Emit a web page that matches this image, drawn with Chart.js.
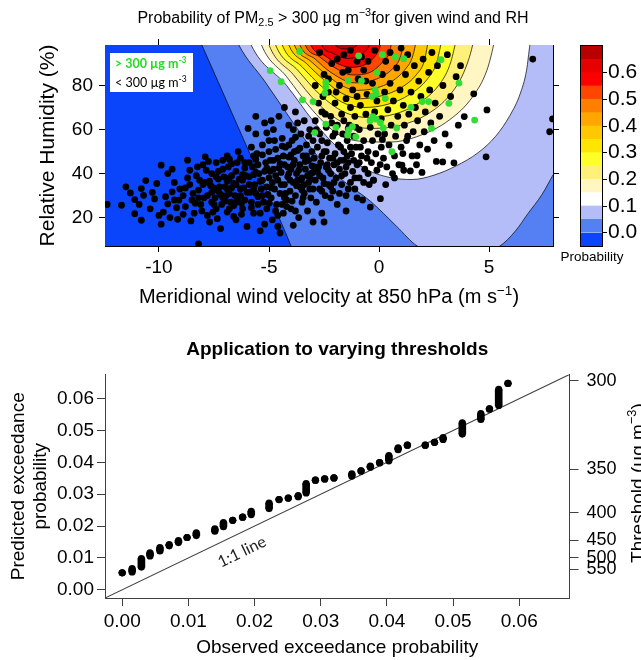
<!DOCTYPE html>
<html>
<head>
<meta charset="utf-8">
<title>PM2.5 exceedance probability</title>
<script src="https://cdn.jsdelivr.net/npm/chart.js@4.4.0/dist/chart.umd.min.js"></script>
<style>
    html, body { margin: 0; padding: 0; background: #fff; }
    #wrap { position: relative; width: 641px; height: 660px; overflow: hidden; }
    canvas { position: absolute; }
    #topChart { left: 0; top: 0; }
    #barChart { left: 540px; top: 0; }
    #bottomChart { left: 0; top: 320px; }
</style>
</head>
<body>
<div id="wrap">
    <canvas id="topChart" width="641" height="320"></canvas>
    <canvas id="barChart" width="101" height="320"></canvas>
    <canvas id="bottomChart" width="641" height="340"></canvas>
</div>
<script>
// ============================================
// Data - top panel (wind vs RH)
// ============================================

const windRange = [-12.45, 7.9];
const rhRange = [7.1, 98.4];
const windTicks = [-10, -5, 0, 5];
const rhTicks = [20, 40, 60, 80];

// probability bands of the colour key
const probEdges = [-0.05, 0.00, 0.05, 0.10, 0.15, 0.20, 0.25, 0.30, 0.35, 0.40, 0.45, 0.50, 0.55, 0.60, 0.65, 0.70];
const probColors = ['#0b45fb', '#5580f3', '#b4bdf8', '#ffffff', '#fff6c4', '#fff07a', '#ffff2a', '#ffe500',
                    '#ffc800', '#ffa600', '#ff7f00', '#ff4600', '#ff0000', '#e60000', '#b80000'];
const probTicks = [0, 0.1, 0.2, 0.3, 0.4, 0.5, 0.6];

// contour lines [wind, RH], levels 0.00 .. 0.65
const contour00 = [[-8.3, 104], [-8.05, 98.4], [-6.0, 52], [-4.0, 7.1], [-3.85, 3], [-3.5, 0], [12, 0]];
const contour05 = [[-6.6, 104], [-6.37, 98.4], [-5.2, 82], [-4.0, 64.5], [-2.8, 48], [-1.6, 36.5], [-0.4, 27.5],
                   [0.8, 16], [1.73, 7.1], [3.6, 1], [5.49, 7.1], [6.2, 14], [6.76, 21.8], [7.4, 30.5], [7.9, 39.4], [8.6, 52]];
const contour10 = [[-6.0, 104], [-5.81, 98.4], [-4.2, 80], [-3.0, 64], [-1.8, 51], [-0.6, 42], [0.5, 38.2], [1.5, 37.3],
                   [2.5, 39.3], [3.5, 43.5], [4.5, 49.5], [5.3, 57], [5.95, 66.5], [6.4, 76], [6.7, 87], [6.85, 98.4], [6.95, 104]];
const contour15 = [[-5.5, 104], [-5.34, 98.4], [-4.2, 84], [-3.0, 68.5], [-1.8, 57.5], [-0.6, 54.5], [0.5, 54.3],
                   [1.7, 56.7], [3.2, 64.4], [4.25, 74.9], [4.9, 87], [5.2, 98.4], [5.3, 104]];
const contour20 = [[-5.15, 104], [-5.0, 98.4], [-3.9, 85], [-2.8, 72], [-1.6, 63], [-0.3, 60.5], [1.0, 62], [2.2, 67],
                   [3.2, 75.5], [3.85, 86], [4.25, 98.4], [4.35, 104]];
const contour25 = [[-4.85, 104], [-4.7, 98.4], [-3.7, 87], [-2.7, 76], [-1.6, 68], [-0.5, 65.5], [0.7, 67], [1.8, 72],
                   [2.7, 80], [3.2, 89], [3.45, 98.4], [3.55, 104]];
const contour30 = [[-4.55, 104], [-4.4, 98.4], [-3.5, 88.5], [-2.6, 79.5], [-1.7, 72.5], [-0.7, 70], [0.4, 71.5],
                   [1.4, 76], [2.2, 83], [2.6, 90], [2.8, 98.4], [2.9, 104]];
const contour35 = [[-4.25, 104], [-4.1, 98.4], [-3.3, 90], [-2.5, 82.5], [-1.7, 76.5], [-0.85, 74], [0.1, 75.3],
                   [1.0, 79], [1.7, 85], [2.05, 91], [2.2, 98.4], [2.3, 104]];
const contour40 = [[-4.0, 104], [-3.85, 98.4], [-3.1, 91], [-2.4, 85], [-1.7, 80], [-1.0, 77.8], [-0.2, 78.7],
                   [0.6, 82], [1.2, 87.5], [1.5, 92.5], [1.65, 98.4], [1.75, 104]];
const contour45 = [[-3.75, 104], [-3.6, 98.4], [-2.9, 92], [-2.2, 86], [-1.1, 81.2], [-0.1, 83], [0.6, 87.5],
                   [0.95, 92.5], [1.1, 98.4], [1.2, 104]];
const contour50 = [[-3.5, 104], [-3.35, 98.4], [-2.7, 93], [-2.0, 88], [-1.2, 84.8], [-0.4, 86], [0.15, 90.5],
                   [0.45, 94.5], [0.55, 98.4], [0.65, 104]];
const contour55 = [[-3.25, 104], [-3.1, 98.4], [-2.5, 93.8], [-1.9, 90], [-1.3, 88.3], [-0.7, 89.2], [-0.25, 92.5],
                   [-0.02, 96], [0.06, 98.4], [0.15, 104]];
const contour60 = [[-2.75, 104], [-2.6, 98.4], [-2.1, 94.7], [-1.45, 92.3], [-0.9, 93.5], [-0.55, 96.5], [-0.45, 98.4], [-0.35, 104]];
const contour65 = [[-2.1, 104], [-2.0, 98.4], [-1.5, 96.6], [-1.0, 98.4], [-0.9, 104]];

const contourLines = [contour00, contour05, contour10, contour15, contour20, contour25, contour30,
                      contour35, contour40, contour45, contour50, contour55, contour60, contour65];

// days with PM2.5 > 300 ug m-3 (green)
const exceedPoints = [
    [-3.61, 95.5], [-4.95, 86.8], [-4.45, 81.7], [-3.48, 73.5], [-3.0, 72.7], [-2.42, 81.4], [-2.42, 79.2],
    [-2.46, 76.5], [-0.93, 93.5], [0.15, 94.0], [0.74, 92.9], [1.12, 92.2], [2.81, 91.7], [-1.4, 82.1],
    [-0.8, 82.1], [-0.09, 85.9], [-0.32, 75], [-0.13, 76.2], [0.28, 74.1], [3.63, 81.1], [1.45, 70.1],
    [1.96, 72.7], [2.25, 72.7], [3.17, 71.9], [-0.28, 65.9], [-0.13, 64.7], [-0.41, 64.0], [0.06, 63.1],
    [0.19, 60.7], [0.8, 60.7], [4.34, 64.3], [2.38, 60.5], [-2.42, 62.5], [-1.96, 61.0], [-1.38, 59.8],
    [-1.21, 61.3], [-1.43, 57.5], [-1.06, 56.7], [-2.92, 58.6], [0.58, 49.9], [-0.17, 78]
];

// days below 300 ug m-3 (black)
const belowPoints = [
    [-12.35, 26], [-11.7, 25.6], [-11.3, 31.2], [-11.1, 28.2], [-10.8, 33.2], [-10.7, 30.1], [-11.1, 21.8],
    [-10.8, 18.8], [-9.9, 43.8], [-9.9, 17], [-10.1, 35.5], [-9.6, 40], [-9.4, 31.7], [-9.1, 27.9], [-10.4, 24],
    [-10.2, 28.5], [-9.8, 22.5], [-9.5, 20], [-9.3, 36], [-9.2, 24.5], [-10.6, 36.8], [-11.5, 34], [-10.9, 26],
    [-9.7, 29.5], [-9.4, 42], [-9.05, 33], [-10.3, 31.5], [-9.6, 26.2], [-9.15, 19.2], [-10.0, 21],
    [-8.9, 30], [-8.8, 25], [-8.7, 46.1], [-8.6, 35], [-8.5, 28], [-8.4, 22], [-8.3, 39], [-8.2, 8.1],
    [-8.2, 32.5], [-8.1, 26], [-8.0, 44], [-7.9, 47.6], [-7.9, 36], [-7.8, 30], [-7.8, 21], [-7.7, 18],
    [-7.6, 40], [-7.6, 27], [-7.5, 33.5], [-7.4, 45], [-7.4, 24], [-7.3, 37.5], [-7.2, 30.5], [-7.2, 15],
    [-7.1, 42], [-7.0, 27.5], [-7.0, 34], [-6.9, 48], [-6.9, 22.5], [-6.8, 38], [-6.8, 31], [-6.7, 44.5],
    [-6.6, 25.5], [-6.6, 35.5], [-6.5, 41], [-6.5, 19], [-6.4, 29], [-6.3, 47], [-6.3, 33], [-6.2, 37],
    [-6.2, 24], [-6.1, 42.5], [-6.1, 28], [-6.0, 31.5], [-6.0, 16], [-8.6, 41.5], [-8.45, 31], [-8.35, 26.5],
    [-8.15, 37], [-8.05, 23], [-7.95, 29], [-7.85, 41.5], [-7.65, 34.5], [-7.55, 22.5], [-7.45, 29],
    [-7.35, 19.5], [-7.25, 34], [-7.15, 26], [-7.05, 38.5], [-6.95, 30], [-6.85, 43], [-6.75, 27],
    [-6.7, 33.5], [-6.55, 30], [-6.45, 45], [-6.35, 37.5], [-6.25, 26.5], [-6.15, 33.5], [-6.05, 39],
    [-8.8, 33.5], [-8.9, 21.5], [-8.55, 18.5], [-7.75, 45.5], [-7.1, 46], [-6.6, 20.5], [-6.25, 21.5],
    [-6.4, 50], [-7.6, 31.5], [-8.25, 43], [-8.0, 35], [-7.3, 41], [-6.9, 36.5], [-6.5, 27], [-6.8, 46.5],
    [-5.9, 45], [-5.9, 35], [-5.8, 27], [-5.8, 52], [-5.7, 39.5], [-5.7, 22], [-5.6, 31], [-5.6, 58],
    [-5.5, 44], [-5.5, 26], [-5.4, 36.5], [-5.4, 14], [-5.3, 48.5], [-5.3, 30], [-5.2, 63], [-5.2, 41],
    [-5.1, 24], [-5.1, 34], [-5.0, 55], [-5.0, 38], [-4.95, 46], [-4.9, 29], [-4.85, 19], [-4.8, 42],
    [-4.8, 60], [-4.75, 33], [-4.7, 51], [-4.65, 26], [-4.6, 37], [-4.6, 47], [-4.55, 66], [-4.5, 31],
    [-4.5, 13], [-4.45, 40.5], [-4.4, 56], [-4.35, 22], [-4.3, 35], [-4.3, 44], [-4.25, 52], [-4.2, 28],
    [-4.15, 38.5], [-4.1, 62], [-4.1, 47.5], [-4.05, 32], [-4.0, 42], [-4.0, 24], [-3.95, 55], [-3.9, 36],
    [-3.85, 46], [-3.8, 30], [-3.8, 68], [-3.75, 40], [-3.7, 50.5], [-3.65, 20], [-3.6, 34], [-3.6, 44],
    [-3.55, 58], [-3.5, 27], [-3.5, 38], [-3.45, 48], [-3.4, 64], [-3.4, 31], [-3.35, 42], [-3.3, 53],
    [-3.25, 23], [-3.2, 36], [-3.2, 46], [-3.15, 60], [-3.1, 29], [-3.1, 40], [-3.05, 50], [-3.0, 33],
    [-3.0, 18], [-5.85, 31.5], [-5.75, 43], [-5.65, 35], [-5.55, 49], [-5.45, 40], [-5.35, 33], [-5.25, 27],
    [-5.15, 45], [-5.05, 30.5], [-4.95, 41], [-4.85, 36], [-4.7, 23], [-4.55, 42.5], [-4.45, 35], [-4.35, 48],
    [-4.25, 31], [-4.15, 43], [-4.05, 37], [-3.95, 27.5], [-3.85, 50], [-3.75, 34.5], [-3.65, 41.5],
    [-3.55, 37], [-3.45, 29], [-3.35, 45.5], [-3.25, 39], [-3.15, 33], [-3.05, 43.5], [-5.6, 66], [-5.1, 58.5],
    [-4.9, 64], [-4.3, 70], [-3.9, 60], [-4.75, 55], [-5.95, 60.5], [-5.3, 53], [-4.1, 53], [-3.7, 63],
    [-5.2, 17], [-4.6, 16], [-3.9, 16.5], [-5.7, 48], [-4.4, 26],
    [-2.95, 47], [-2.9, 37], [-2.9, 64], [-2.85, 27], [-2.8, 52], [-2.8, 41], [-2.75, 72], [-2.7, 33],
    [-2.7, 58], [-2.65, 45], [-2.6, 22], [-2.6, 68], [-2.55, 38], [-2.5, 50], [-2.5, 85], [-2.45, 30],
    [-2.4, 43], [-2.4, 61], [-2.35, 54], [-2.3, 35], [-2.3, 77], [-2.25, 47], [-2.2, 40], [-2.2, 66],
    [-2.15, 90], [-2.1, 32], [-2.1, 57], [-2.05, 44], [-2.0, 49], [-2.0, 72], [-1.95, 38], [-1.9, 62],
    [-1.9, 26], [-1.85, 53], [-1.8, 42], [-1.8, 80], [-1.75, 46], [-1.7, 35], [-1.7, 67], [-1.65, 58],
    [-1.6, 94], [-1.6, 50], [-1.55, 40], [-1.5, 74], [-1.5, 30], [-1.45, 55], [-1.4, 45], [-1.4, 87],
    [-1.35, 62], [-1.3, 36], [-1.3, 70], [-1.25, 49], [-1.2, 78], [-1.2, 41], [-1.15, 57], [-1.1, 33],
    [-1.1, 66], [-1.05, 52], [-1.0, 44], [-1.0, 91], [-0.95, 83], [-0.9, 60], [-0.9, 38], [-0.85, 71],
    [-0.8, 48], [-0.75, 28], [-0.7, 55], [-0.7, 87], [-0.65, 42], [-0.6, 67], [-0.55, 76], [-0.5, 91],
    [-0.5, 50], [-0.45, 35], [-0.4, 61], [-0.4, 24.8], [-0.35, 45], [-0.3, 81], [-0.3, 55], [-0.25, 37],
    [-0.2, 68], [-0.2, 96], [-0.15, 49], [-0.1, 73], [-0.1, 41.5], [-0.05, 58], [-2.85, 60], [-2.6, 48],
    [-2.35, 44], [-2.05, 36], [-1.75, 52], [-1.45, 48], [-1.15, 46], [-0.85, 52], [-0.55, 47], [-2.45, 67],
    [-2.15, 63], [-1.6, 64], [-1.05, 61], [-2.7, 95], [-1.9, 92], [-1.3, 96], [-2.3, 83], [-1.65, 86],
    [-0.8, 93], [-2.9, 80], [-2.55, 75], [-1.95, 77], [-1.0, 75], [-0.6, 82], [-2.75, 43], [-2.2, 29],
    [-1.5, 23], [-1.0, 29], [-2.5, 18], [-3.0, 55],
    [0.05, 44.1], [0.1, 52], [0.1, 65], [0.15, 85], [0.2, 47], [0.25, 58], [0.25, 77], [0.3, 91],
    [0.35, 43], [0.4, 69], [0.45, 53], [0.5, 81], [0.55, 62], [0.61, 40], [0.65, 73], [0.7, 48],
    [0.75, 57], [0.8, 88], [0.85, 66], [0.9, 44], [0.95, 78], [1.0, 52], [1.04, 43.8], [1.08, 49.1],
    [1.1, 71], [1.12, 41.5], [1.15, 62], [1.2, 85], [1.25, 55], [1.3, 94], [1.35, 67], [1.42, 41.2],
    [1.45, 77], [1.5, 48], [1.55, 59], [1.6, 89], [1.65, 70], [1.73, 48.1], [1.75, 64], [1.8, 82],
    [1.85, 53], [1.9, 75], [2.0, 92], [2.05, 59], [2.1, 68], [2.2, 51.1], [2.25, 86], [2.3, 78],
    [2.35, 63], [2.5, 55], [2.55, 72], [2.65, 89], [2.75, 66], [2.89, 45.3], [2.9, 80], [3.0, 58],
    [3.1, 94], [3.18, 52.9], [3.25, 75], [3.4, 44.9], [3.5, 84], [3.6, 62], [3.87, 65.9], [4.3, 76.2],
    [4.86, 47.6], [4.9, 68.9], [6.98, 92], [7.88, 64.8], [7.75, 59], [0.3, 35], [0.7, 38], [-0.26, 37],
    [0.06, 28.6], [2.6, 45.5], [1.95, 40.5], [0.5, 95], [1.0, 97], [2.4, 95], [3.7, 89], [0.15, 55.5],
    [1.3, 57], [1.7, 44],
    [-7.7, 36.5], [-7.5, 26], [-7.3, 32], [-7.1, 29], [-6.9, 33], [-6.7, 39], [-6.5, 35], [-6.3, 30],
    [-6.1, 45], [-5.9, 38.5], [-5.7, 33], [-5.5, 29.5], [-5.3, 37], [-5.1, 42.5], [-4.9, 33.5], [-4.7, 39],
    [-4.5, 44.5], [-4.3, 29], [-4.1, 40], [-3.9, 44], [-3.7, 37], [-3.5, 32.5], [-3.3, 48], [-3.1, 37.5],
    [-2.9, 43], [-2.7, 39], [-2.5, 35.5], [-2.3, 41.5], [-2.1, 47], [-1.9, 45], [-1.7, 39], [-1.5, 43],
    [-1.3, 52], [-1.1, 38], [-0.9, 45], [-0.7, 36], [-0.5, 40], [-5.8, 24.5], [-5.4, 22], [-5.0, 26.5],
    [-4.6, 21], [-4.2, 25], [-3.8, 23], [-3.4, 35], [-3.0, 40.5], [-2.6, 32], [-2.2, 34], [-1.8, 31],
    [-1.4, 33], [-6.8, 24], [-7.4, 38.5], [-8.2, 29], [-8.7, 38], [-9.3, 28], [-5.6, 46.5], [-5.0, 50],
    [-4.4, 52.5], [-3.8, 56.5], [-3.2, 57], [-2.6, 55], [-2.0, 58.5], [-1.4, 60.5], [-4.8, 46], [-4.0, 48.5],
    [-3.6, 51.5], [-2.4, 50], [-1.6, 46], [-6.2, 39.5], [-5.6, 40.5]
];

// ============================================
// Data - bottom panel (observed vs predicted)
// ============================================

const obsProb = [0.0000, 0.0015, 0.0029, 0.0042, 0.0057, 0.0071, 0.0085, 0.0098, 0.0112, 0.0140, 0.0153,
                 0.0167, 0.0182, 0.0195, 0.0222, 0.0237, 0.0251, 0.0266, 0.0278, 0.0292, 0.0306, 0.0320,
                 0.0347, 0.0361, 0.0375, 0.0389, 0.0403, 0.0417, 0.0431, 0.0458, 0.0472, 0.0485, 0.0514,
                 0.0542, 0.0555, 0.0569, 0.0583];
const predLow = [0.0053, 0.0056, 0.0071, 0.0106, 0.0122, 0.0138, 0.0148, 0.0164, 0.0170, 0.0184, 0.0198,
                 0.0218, 0.0228, 0.0236, 0.0255, 0.0283, 0.0288, 0.0292, 0.0304, 0.0344, 0.0348, 0.0351,
                 0.0357, 0.0373, 0.0385, 0.0399, 0.0405, 0.0440, 0.0454, 0.0454, 0.0463, 0.0472, 0.0489,
                 0.0535, 0.0568, 0.0579, 0.0648];
const predHigh = [0.0053, 0.0066, 0.0098, 0.0116, 0.0132, 0.0142, 0.0154, 0.0164, 0.0179, 0.0191, 0.0211,
                  0.0218, 0.0228, 0.0246, 0.0272, 0.0283, 0.0288, 0.0296, 0.0333, 0.0344, 0.0348, 0.0351,
                  0.0364, 0.0373, 0.0388, 0.0399, 0.0421, 0.0446, 0.0454, 0.0454, 0.0463, 0.0478, 0.0524,
                  0.0553, 0.0568, 0.0629, 0.0648];

const probAxisRange = [-0.0026, 0.0676];
const probAxisTicks = [0, 0.01, 0.02, 0.03, 0.04, 0.05, 0.06];
const thresholdLabels = [300, 350, 400, 450, 500, 550];
const thresholdProb = [0.0656, 0.0379, 0.0241, 0.0156, 0.0100, 0.0065];
const oneToOneLabelAt = [0.0181, 0.0119];

// ============================================
// Shared helpers
// ============================================

const FONT = "'Liberation Sans', Arial, sans-serif";
Chart.defaults.font.family = FONT;
Chart.defaults.color = '#000';

function fixedTicks(values) {
    return scale => { scale.ticks = values.map(v => ({ value: v })); };
}

// draws text made of normal / sub / sup parts, y is the baseline
function drawRich(ctx, parts, x, y, size, opts = {}) {
    const family = opts.family || FONT;
    const weight = opts.weight || 'normal';
    const fontFor = kind => `${weight} ${kind ? size * 0.68 : size}px ${family}`;
    let total = 0;
    const widths = parts.map(([text, kind]) => {
        ctx.font = fontFor(kind);
        const w = ctx.measureText(text).width;
        total += w;
        return w;
    });
    ctx.save();
    ctx.translate(x, y);
    if (opts.rotate) ctx.rotate(opts.rotate);
    ctx.fillStyle = opts.color || '#000';
    ctx.textBaseline = 'alphabetic';
    ctx.textAlign = 'left';
    let cx = opts.align === 'center' ? -total / 2 : 0;
    parts.forEach(([text, kind], i) => {
        ctx.font = fontFor(kind);
        const dy = kind === 'sup' ? -size * 0.42 : kind === 'sub' ? size * 0.22 : 0;
        ctx.fillText(text, cx, dy);
        cx += widths[i];
    });
    ctx.restore();
}

// ============================================
// Top panel - contour map with points
// ============================================

const plotBackground = {
    id: 'plotBackground',
    beforeDatasetsDraw(chart) {
        const { ctx, chartArea: a } = chart;
        ctx.save();
        ctx.fillStyle = probColors[0];
        ctx.fillRect(a.left, a.top, a.width, a.height);
        ctx.restore();
    }
};

const topAnnotations = {
    id: 'topAnnotations',
    afterDraw(chart) {
        const { ctx, chartArea: a } = chart;

        // legend box
        ctx.save();
        ctx.fillStyle = '#fff';
        ctx.fillRect(a.left + 5, a.top + 8, 83, 39);
        ctx.restore();
        drawRich(ctx, [['> 300 \u00b5g m'], ['-3', 'sup']], a.left + 10, a.top + 23, 12.5,
            { family: "Lato, 'Liberation Sans', sans-serif", weight: 'bold', color: '#22dd22' });
        drawRich(ctx, [['< 300 \u00b5g m'], ['-3', 'sup']], a.left + 10, a.top + 42, 12.5,
            { family: "Lato, 'Liberation Sans', sans-serif" });

        // title and x axis title
        drawRich(ctx, [['Probability of PM'], ['2.5', 'sub'], [' > 300 \u00b5g m'], ['\u22123', 'sup'],
            ['for given wind and RH']], 333, 22.5, 16, { align: 'center' });
        drawRich(ctx, [['Meridional wind velocity at 850 hPa (m s'], ['\u22121', 'sup'], [')']],
            (a.left + a.right) / 2, 303, 20, { align: 'center' });
    }
};

const contourDatasets = contourLines.map((line, i) => ({
    type: 'line',
    data: line.map(p => ({ x: p[0], y: p[1] })),
    xAxisID: 'x',
    yAxisID: 'y',
    order: 100 - i,
    borderColor: '#000',
    borderWidth: 0.7,
    backgroundColor: probColors[i + 1],
    fill: 'end',
    pointRadius: 0,
    cubicInterpolationMode: 'monotone',
    clip: 0
}));

const axisCommon = {
    type: 'linear',
    z: 1,
    border: { color: '#000', width: 1 },
    grid: { drawOnChartArea: false, drawTicks: true, tickLength: 6, color: '#000' }
};

new Chart(document.getElementById('topChart'), {
    type: 'scatter',
    data: {
        datasets: [
            ...contourDatasets,
            {
                data: belowPoints.map(p => ({ x: p[0], y: p[1] })),
                xAxisID: 'x', yAxisID: 'y', order: 2,
                pointRadius: 3.4, pointBackgroundColor: '#000', pointBorderWidth: 0, clip: 0
            },
            {
                data: exceedPoints.map(p => ({ x: p[0], y: p[1] })),
                xAxisID: 'x', yAxisID: 'y', order: 1,
                pointRadius: 3.4, pointBackgroundColor: '#33dd33', pointBorderWidth: 0, clip: 0
            }
        ]
    },
    options: {
        responsive: false,
        animation: false,
        events: [],
        layout: { padding: 0 },
        plugins: { legend: { display: false }, tooltip: { enabled: false } },
        scales: {
            x: {
                ...axisCommon, position: 'bottom', min: windRange[0], max: windRange[1],
                afterBuildTicks: fixedTicks(windTicks),
                ticks: { font: { size: 19 }, padding: 4.6, maxRotation: 0, autoSkip: false },
                afterFit: s => { s.height = 74; }
            },
            xTop: {
                ...axisCommon, position: 'top', min: windRange[0], max: windRange[1],
                afterBuildTicks: fixedTicks(windTicks),
                ticks: { display: false },
                afterFit: s => { s.height = 45; }
            },
            y: {
                ...axisCommon, position: 'left', min: rhRange[0], max: rhRange[1],
                afterBuildTicks: fixedTicks(rhTicks),
                ticks: { font: { size: 19 }, padding: 6, autoSkip: false },
                title: { display: true, text: 'Relative Humidity (%)', font: { size: 21 }, padding: { top: 36 } },
                afterFit: s => { s.width = 105; }
            },
            yRight: {
                ...axisCommon, position: 'right', min: rhRange[0], max: rhRange[1],
                afterBuildTicks: fixedTicks(rhTicks),
                ticks: { display: false },
                afterFit: s => { s.width = 88; }
            }
        }
    },
    plugins: [plotBackground, topAnnotations]
});

// ============================================
// Colour key
// ============================================

const keyFrame = {
    id: 'keyFrame',
    afterDraw(chart) {
        const { ctx, chartArea: a } = chart;
        ctx.save();
        ctx.strokeStyle = '#000';
        ctx.lineWidth = 1;
        ctx.strokeRect(a.left - 0.5, a.top - 0.5, a.width + 1, a.height + 1);
        ctx.fillStyle = '#000';
        ctx.font = `13.5px ${FONT}`;
        ctx.textAlign = 'center';
        ctx.textBaseline = 'middle';
        ctx.fillText('Probability', 52, 257);
        ctx.restore();
    }
};

new Chart(document.getElementById('barChart'), {
    type: 'bar',
    data: {
        labels: [''],
        datasets: probColors.map((c, i) => ({
            data: [[probEdges[i], probEdges[i + 1]]],
            backgroundColor: c,
            grouped: false,
            barPercentage: 1,
            categoryPercentage: 1,
            borderWidth: 0,
            borderSkipped: false
        }))
    },
    options: {
        responsive: false,
        animation: false,
        events: [],
        layout: { padding: { left: 41, top: 46, bottom: 74, right: 0 } },
        plugins: { legend: { display: false }, tooltip: { enabled: false } },
        scales: {
            x: { display: false },
            y: {
                position: 'right', min: probEdges[0], max: probEdges[probEdges.length - 1],
                afterBuildTicks: fixedTicks(probTicks),
                ticks: { font: { size: 21 }, padding: 1, autoSkip: false, callback: v => v.toFixed(1) },
                grid: { drawOnChartArea: false, tickLength: 5, color: '#000' },
                border: { display: false },
                afterFit: s => { s.width = 39; }
            }
        }
    },
    plugins: [keyFrame]
});

// ============================================
// Bottom panel - varying thresholds
// ============================================

const bottomAnnotations = {
    id: 'bottomAnnotations',
    afterDraw(chart) {
        const { ctx, scales } = chart;
        const x = scales.x, y = scales.y;
        const angle = Math.atan2(
            y.getPixelForValue(probAxisRange[1]) - y.getPixelForValue(probAxisRange[0]),
            x.getPixelForValue(probAxisRange[1]) - x.getPixelForValue(probAxisRange[0]));
        ctx.save();
        ctx.translate(x.getPixelForValue(oneToOneLabelAt[0]), y.getPixelForValue(oneToOneLabelAt[1]));
        ctx.rotate(angle);
        ctx.fillStyle = '#222';
        ctx.font = `16px Lato, ${FONT}`;
        ctx.textAlign = 'center';
        ctx.textBaseline = 'middle';
        ctx.fillText('1:1 line', 0, 0);
        ctx.restore();

        // right axis title, partly cut by the figure edge
        drawRich(ctx, [['Threshold (\u00b5g m'], ['\u22123', 'sup'], [')']], 644, 163, 19,
            { align: 'center', rotate: -Math.PI / 2 });
    }
};

const bottomAxis = {
    type: 'linear',
    z: 1,
    offset: false,
    min: probAxisRange[0],
    max: probAxisRange[1],
    border: { color: '#404040', width: 1 },
    grid: { drawOnChartArea: false, drawTicks: true, tickLength: 8, color: '#404040', offset: false }
};

new Chart(document.getElementById('bottomChart'), {
    type: 'scatter',
    data: {
        datasets: [
            {
                type: 'line',
                data: [{ x: probAxisRange[0], y: probAxisRange[0] }, { x: probAxisRange[1], y: probAxisRange[1] }],
                xAxisID: 'x', yAxisID: 'y', order: 3,
                borderColor: '#404040', borderWidth: 1.1, pointRadius: 0, fill: false, clip: 0
            },
            {
                type: 'bar',
                data: obsProb.map((v, i) => ({ x: v, y: [predLow[i], predHigh[i]] })),
                xAxisID: 'x', yAxisID: 'y', order: 2,
                backgroundColor: '#000', barThickness: 7, borderWidth: 0, borderSkipped: false
            },
            {
                data: obsProb.map((v, i) => ({ x: v, y: predLow[i] }))
                    .concat(obsProb.map((v, i) => ({ x: v, y: predHigh[i] }))),
                xAxisID: 'x', yAxisID: 'y', order: 1,
                pointRadius: 3.6, pointBackgroundColor: '#000', pointBorderWidth: 0
            }
        ]
    },
    options: {
        responsive: false,
        animation: false,
        events: [],
        layout: { padding: 0 },
        plugins: {
            legend: { display: false },
            tooltip: { enabled: false },
            title: {
                display: true,
                fullSize: false,
                text: 'Application to varying thresholds',
                color: '#000',
                font: { size: 19, weight: 'bold' },
                padding: { top: 18.6, bottom: 13.1 }
            }
        },
        scales: {
            x: {
                ...bottomAxis, position: 'bottom',
                afterBuildTicks: fixedTicks(probAxisTicks),
                ticks: { font: { size: 19 }, padding: 4.6, maxRotation: 0, autoSkip: false, callback: v => v.toFixed(2) },
                title: { display: true, text: 'Observed exceedance probability', font: { size: 19 }, padding: { bottom: 1 } },
                afterFit: s => { s.height = 62; }
            },
            y: {
                ...bottomAxis, position: 'left',
                afterBuildTicks: fixedTicks(probAxisTicks),
                ticks: { font: { size: 19 }, padding: 3, autoSkip: false, callback: v => v.toFixed(2) },
                title: { display: true, text: ['Predicted exceedance', 'probability'], font: { size: 19 }, padding: { top: 7 } },
                afterFit: s => { s.width = 105; }
            },
            yRight: {
                ...bottomAxis, position: 'right',
                grid: { ...bottomAxis.grid, tickLength: 9 },
                afterBuildTicks: fixedTicks(thresholdProb),
                ticks: { font: { size: 18 }, padding: 8, autoSkip: false, callback: (v, i) => thresholdLabels[i] },
                afterFit: s => { s.width = 71.5; }
            }
        }
    },
    plugins: [bottomAnnotations]
});
</script>
</body>
</html>
